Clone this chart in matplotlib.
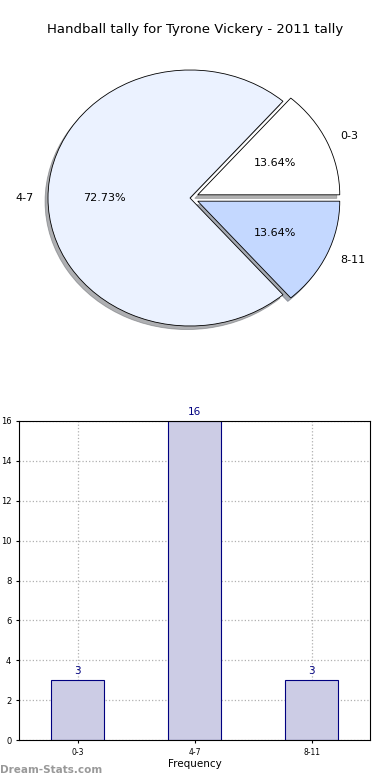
import matplotlib
matplotlib.use("Agg")
import matplotlib.pyplot as plt
import numpy as np

# ============================== Data

categories = ["0-3", "4-7", "8-11"]
counts = [3, 16, 3]
pie_colors = ["#ffffff", "#ebf2ff", "#c4d8ff"]
explode = [0.06, 0.0, 0.06]

TITLE = "Handball tally for Tyrone Vickery - 2011 tally"
Y_TICKS = [0, 2, 4, 6, 8, 10, 12, 14, 16]

# ============================== Figure

fig = plt.figure(figsize=(3.9, 7.8), dpi=100)

# ------------------------- Pie
ax_pie = fig.add_axes([12.5 / 390, (780 - 358) / 780, 355 / 390, 320 / 780])
wedges, texts, autotexts = ax_pie.pie(
    counts, labels=categories, colors=pie_colors, explode=explode,
    autopct="%.2f%%", startangle=0,
    shadow={"ox": -0.015, "oy": -0.02, "shade": 0.6},
    wedgeprops=dict(edgecolor="black", linewidth=0.6),
    textprops=dict(fontsize=8),
)
ax_pie.set_aspect("auto")
ax_pie.set_xlim(-1.25, 1.25)
ax_pie.set_ylim(-1.25, 1.25)
fig.text(0.5, 1 - 30 / 780, TITLE, ha="center", va="center", fontsize=9.5)

# ------------------------- Bars
ax_bar = fig.add_axes([19 / 390, 40 / 780, 351 / 390, 319 / 780])
x = np.arange(len(categories))
ax_bar.bar(x, counts, width=0.45, color="#ccccE5", edgecolor="#000080",
           linewidth=0.8, zorder=2)
for xi, c in zip(x, counts):
    ax_bar.text(xi, c + 0.2, str(c), ha="center", va="bottom",
                color="#000080", fontsize=7.5)
ax_bar.set_xlim(-0.5, 2.5)
ax_bar.set_ylim(0, 16)
ax_bar.set_xticks(x)
ax_bar.set_xticklabels(categories, fontsize=5.5)
ax_bar.set_yticks(Y_TICKS)
ax_bar.tick_params(axis="y", labelsize=6)
ax_bar.tick_params(length=2)
ax_bar.grid(True, linestyle=":", color="#b0b0b0", linewidth=0.9, zorder=0)
ax_bar.set_axisbelow(True)
ax_bar.set_xlabel("Frequency", fontsize=7.5, labelpad=2)
ax_bar.set_ylabel("Distribution", fontsize=7.5, labelpad=3)

fig.text(0.0, 1 - 770 / 780, "Dream-Stats.com", ha="left", va="center",
         fontsize=7.5, fontweight="bold", color="#999999")

fig.savefig("out.png", dpi=100)
